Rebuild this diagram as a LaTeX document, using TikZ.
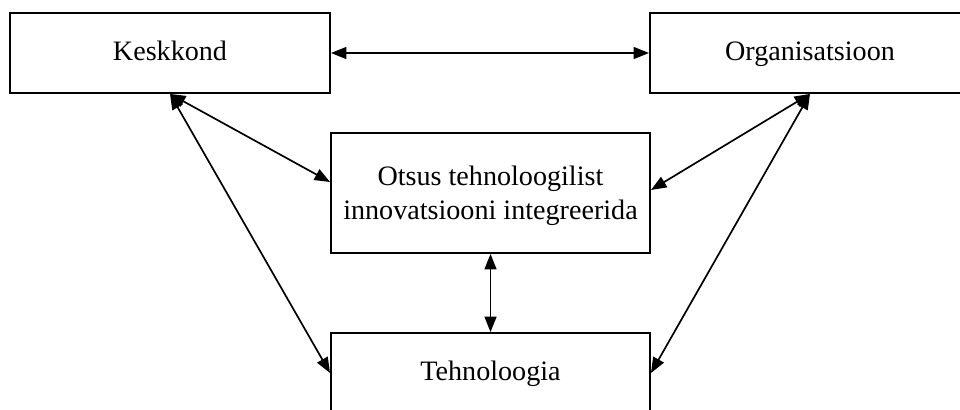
\documentclass[tikz,border=0pt]{standalone}
\usepackage{fontspec}
\setmainfont{Liberation Serif}
\usetikzlibrary{arrows.meta}
\tikzset{
  box/.style={draw, line width=1.3pt, fill=white, align=center,
    font=\fontsize{20}{24}\selectfont},
  oneline/.style={text height=13.6pt, text depth=3.2pt},
  link/.style={{Triangle[length=11pt,width=8.5pt]}-{Triangle[length=11pt,width=8.5pt]}, line width=1.2pt}
}
\begin{document}
\begin{tikzpicture}[x=0.025cm,y=-0.025cm]
        % the picture frame
        \useasboundingbox (0,0) rectangle (960,409);
        % the top row
        \node[box, oneline, minimum width=8cm, minimum height=2cm] (keskkond) at (170,53) {Keskkond};
        \node[box, oneline, minimum width=8cm, minimum height=2cm] (organisatsioon) at (810,53) {Organisatsioon};
        % the decision in the middle
        \node[box, text depth=0pt, minimum width=7.975cm, minimum height=3cm] (otsus) at (490.5,193)
            {Otsus tehnoloogilist\\innovatsiooni integreerida};
        % the technology box
        \node[box, oneline, minimum width=7.975cm, minimum height=2cm] (tehnoloogia) at (490.5,373) {Tehnoloogia};

        % arrows between the boxes
        \draw[link] (keskkond) -- (organisatsioon);
        \draw[link] (keskkond.south) -- ([yshift=0.275cm]otsus.west);
        \draw[link] (keskkond.south) -- (tehnoloogia.west);
        \draw[link] (organisatsioon.south) -- ([yshift=0.075cm]otsus.east);
        \draw[link] (organisatsioon.south) -- (tehnoloogia.east);
        \draw[link] (otsus) -- (tehnoloogia);
    \end{tikzpicture}
\end{document}
